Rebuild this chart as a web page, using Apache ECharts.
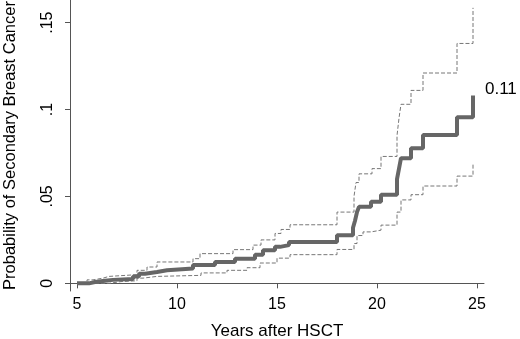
<!DOCTYPE html>
<html>
<head>
<meta charset="utf-8">
<script src="https://cdn.jsdelivr.net/npm/echarts@6/dist/echarts.min.js"></script>
<style>
  html, body { margin: 0; padding: 0; background: #fff; }
  #main { width: 520px; height: 339px; }
</style>
</head>
<body>
<div id="main"></div>
<script>
// cumulative incidence (step points: [years, probability])
var estimate = [[5,0],[5.6,0.0008],[5.9,0.0015],[6.4,0.002],[6.8,0.0025],[7.8,0.004],[8.1,0.0055],[8.4,0.0065],
  [9.0,0.0075],[9.5,0.0085],[10.8,0.0105],[11.9,0.0123],[12.9,0.0142],[13.9,0.0165],[14.3,0.019],[14.9,0.021],
  [15.15,0.022],[15.6,0.0238],[18.0,0.0277],[18.8,0.032],[18.9,0.036],[19.0,0.041],[19.1,0.044],[19.7,0.047],
  [20.2,0.051],[21.0,0.06],[21.1,0.066],[21.2,0.072],[21.7,0.0777],[22.3,0.0854],[24.0,0.0956],[24.8,0.108]];
var upperCI = [[5,0],[5.5,0.002],[5.8,0.003],[6.3,0.004],[6.6,0.005],[8.0,0.0075],[8.5,0.0094],[9.0,0.0123],
  [10.8,0.0142],[11.15,0.0171],[12.8,0.0194],[13.8,0.022],[14.2,0.025],[14.9,0.0287],[15.2,0.031],[15.65,0.0337],
  [18.0,0.041],[18.85,0.05],[18.95,0.058],[19.1,0.063],[19.75,0.066],[20.2,0.073],[21.0,0.085],[21.1,0.095],
  [21.2,0.103],[21.7,0.111],[22.3,0.121],[24.0,0.138],[24.8,0.1585]];
var lowerCI = [[5,0],[6.6,0.001],[7.2,0.0015],[8.0,0.003],[8.3,0.004],[9.0,0.0046],[11.2,0.006],[12.5,0.0075],
  [13.5,0.009],[14.15,0.0117],[15.0,0.0145],[15.65,0.0165],[18.0,0.0195],[18.85,0.0229],[19.0,0.0275],
  [19.3,0.0296],[19.7,0.0306],[20.2,0.0335],[21.0,0.041],[21.2,0.048],[21.7,0.051],[22.3,0.056],[24.0,0.0617],
  [24.8,0.069]];
var xTicks = [5, 10, 15, 20, 25];
var yTicks = [0, 0.05, 0.1, 0.15];
var yTickText = {'0': '0', '0.05': '.05', '0.1': '.1', '0.15': '.15'};
var endText = '0.11';

var font = 'Liberation Sans, Arial, sans-serif';
var axisGray = '#555';

var myChart = echarts.init(document.getElementById('main'), null, {renderer: 'canvas'});
myChart.setOption({
  animation: false,
  grid: {left: 70, right: 36, top: 0, bottom: 48, outerBoundsMode: 'none', containLabel: false},
  xAxis: {
    type: 'value',
    min: 4.65,
    max: 25.35,
    name: 'Years after HSCT',
    nameLocation: 'middle',
    nameGap: 32,
    nameTextStyle: {fontFamily: font, fontSize: 17, color: '#000'},
    axisLine: {lineStyle: {color: axisGray, width: 1}},
    axisTick: {length: 5, lineStyle: {color: axisGray}, customValues: xTicks},
    axisLabel: {customValues: xTicks, margin: 6, fontFamily: font, fontSize: 16, color: '#000'},
    splitLine: {show: false}
  },
  yAxis: {
    type: 'value',
    min: -0.0044,
    max: 0.163,
    name: 'Probability of Secondary Breast Cancer',
    nameLocation: 'middle',
    nameGap: 51,
    nameTextStyle: {fontFamily: font, fontSize: 16.5, color: '#000'},
    axisLine: {show: true, lineStyle: {color: axisGray, width: 1}},
    axisTick: {show: true, length: 5, lineStyle: {color: axisGray}, customValues: yTicks},
    axisLabel: {
      customValues: yTicks,
      rotate: 90,
      margin: 14,
      fontFamily: font, fontSize: 16, color: '#000',
      formatter: function (v) { return yTickText[String(+v.toFixed(2))]; }
    },
    splitLine: {show: false}
  },
  series: [
    {
      type: 'line', step: 'end', data: upperCI, symbol: 'none', silent: true,
      lineStyle: {color: '#777', width: 1, type: [4, 2]}
    },
    {
      type: 'line', step: 'end', data: lowerCI, symbol: 'none', silent: true,
      lineStyle: {color: '#777', width: 1, type: [4, 2]}
    },
    {
      type: 'line', step: 'end', data: estimate, symbol: 'none', silent: true,
      lineStyle: {color: '#666', width: 4, cap: 'butt'},
      endLabel: {
        show: true,
        formatter: endText,
        offset: [4, -6],
        fontFamily: font, fontSize: 17, color: '#000'
      }
    }
  ]
});
</script>
</body>
</html>
